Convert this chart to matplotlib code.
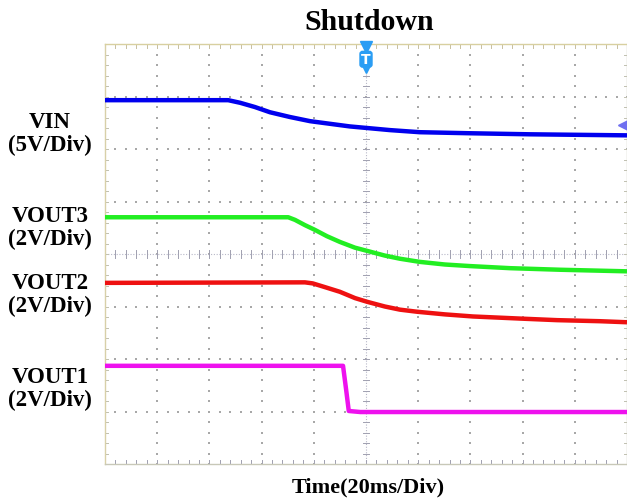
import numpy as np
import matplotlib
matplotlib.use("Agg")
import matplotlib.pyplot as plt
import matplotlib.patches as mpatches

# ---- data (time in divisions of 20 ms, level in screen divisions) ----
vin_t = [0, 2.36, 2.59, 2.87, 3.16, 3.54, 3.93, 4.31, 4.69, 5.02, 5.46, 6.03, 6.99, 8.14, 10.0]
vin_v = [6.93, 6.93, 6.88, 6.80, 6.70, 6.61, 6.53, 6.48, 6.43, 6.40, 6.36, 6.32, 6.30, 6.28, 6.26]

vout3_t = [0, 3.51, 3.64, 3.83, 4.02, 4.25, 4.50, 4.79, 5.02, 5.36, 5.65, 6.03, 6.51, 6.99, 7.76, 8.72, 10.0]
vout3_v = [4.70, 4.70, 4.65, 4.55, 4.46, 4.34, 4.23, 4.12, 4.06, 3.97, 3.91, 3.85, 3.80, 3.77, 3.73, 3.70, 3.67]

vout2_t = [0, 3.83, 3.98, 4.21, 4.50, 4.79, 5.02, 5.36, 5.65, 5.98, 6.51, 7.05, 7.95, 8.66, 9.48, 10.0]
vout2_v = [3.45, 3.46, 3.44, 3.37, 3.28, 3.16, 3.09, 3.00, 2.94, 2.90, 2.85, 2.81, 2.77, 2.74, 2.72, 2.70]

vout1_t = [0, 4.56, 4.62, 4.67, 4.89, 10.0]
vout1_v = [1.87, 1.87, 1.41, 1.01, 0.99, 0.99]

labels = ["VIN\n(5V/Div)", "VOUT3\n(2V/Div)", "VOUT2\n(2V/Div)", "VOUT1\n(2V/Div)"]
label_y_px = [134, 228, 295, 389]
title = "Shutdown"
xlabel = "Time(20ms/Div)"

plt.rcParams['font.family'] = ['Liberation Serif', 'DejaVu Serif']

fig = plt.figure(figsize=(6.27, 5.0), dpi=100)
ax = fig.add_axes([105/627, 36/500, 522/627, 420/500])
ax.set_xlim(0, 10)
ax.set_ylim(0, 8)
ax.set_xticks([]); ax.set_yticks([])
for s in ax.spines.values():
    s.set_color('#c8c8b8'); s.set_linewidth(1.0)
ax.spines['top'].set_color('#d8d0a0')
ax.spines['left'].set_color('#d8d0a8')

gcol = '#a8a8a8'
steps_x = np.arange(0, 10.001, 0.2)
steps_y = np.arange(0, 8.001, 0.2)
# dotted grid
for i in range(1, 10):
    if i == 5:
        continue
    ax.scatter(np.full_like(steps_y, i), steps_y, s=0.6, c=gcol, marker='s', linewidths=0, zorder=1)
for j in range(1, 8):
    if j == 4:
        continue
    ax.scatter(steps_x, np.full_like(steps_x, j), s=0.6, c=gcol, marker='s', linewidths=0, zorder=1)
# center cross with ticks
ax.plot([5, 5], [0, 8], color='#b8b8c8', lw=0.8, ls=(0, (1, 1.5)), zorder=1)
ax.plot([0, 10], [4, 4], color='#b8b8c8', lw=0.8, ls=(0, (1, 1.5)), zorder=1)
for y in steps_y:
    ax.plot([4.94, 5.06], [y, y], color='#a0a0b0', lw=0.7, zorder=1)
for x in steps_x:
    ax.plot([x, x], [3.93, 4.07], color='#a0a0b0', lw=0.7, zorder=1)
# border ticks
for x in steps_x:
    ax.plot([x, x], [0, 0.07], color='#a0a0b0', lw=0.7, zorder=1)
    ax.plot([x, x], [8, 7.93], color='#c8c0a0', lw=0.7, zorder=1)
for y in steps_y:
    ax.plot([0, 0.06], [y, y], color='#c0c0b0', lw=0.7, zorder=1)
    ax.plot([10, 9.94], [y, y], color='#c0c0b0', lw=0.7, zorder=1)

# traces
lw = 3.2
kw = dict(lw=lw, solid_joinstyle='round', solid_capstyle='butt', zorder=3)
ax.plot(vin_t, vin_v, color='#0000ee', **kw)
ax.plot(vout3_t, vout3_v, color='#22ee22', **kw)
ax.plot(vout2_t, vout2_v, color='#ee1111', **kw)
ax.plot(vout1_t, vout1_v, color='#ee11ee', **kw)

# trigger marker
tcol = '#2a9df4'
ax.plot([5], [7.94], marker='v', ms=8, color=tcol, clip_on=False, zorder=5)
shield = mpatches.FancyBboxPatch((4.885, 7.56), 0.23, 0.30, boxstyle='round,pad=0.0,rounding_size=0.05',
                                 fc=tcol, ec=tcol, zorder=5)
ax.add_patch(shield)
ax.plot([5], [7.53], marker='v', ms=6, color=tcol, zorder=5)
ax.text(5, 7.70, 'T', color='white', ha='center', va='center', fontsize=10, fontweight='bold',
        family='DejaVu Sans', zorder=6)
# reference arrow on right
ax.plot([9.93], [6.46], marker='<', ms=7, color='#7070f0', zorder=4, clip_on=False)

# texts
fig.text(369/627, 1 - 22/500, title, ha='center', va='center', fontsize=21.5, fontweight='bold')
fig.text(368/627, 1 - 487/500, xlabel, ha='center', va='center', fontsize=16, fontweight='bold')
for lab, yp in zip(labels, label_y_px):
    fig.text(50/627, 1 - yp/500, lab, ha='center', va='center', fontsize=16.5, fontweight='bold',
             linespacing=1.15)

fig.savefig('out.png', dpi=100)
